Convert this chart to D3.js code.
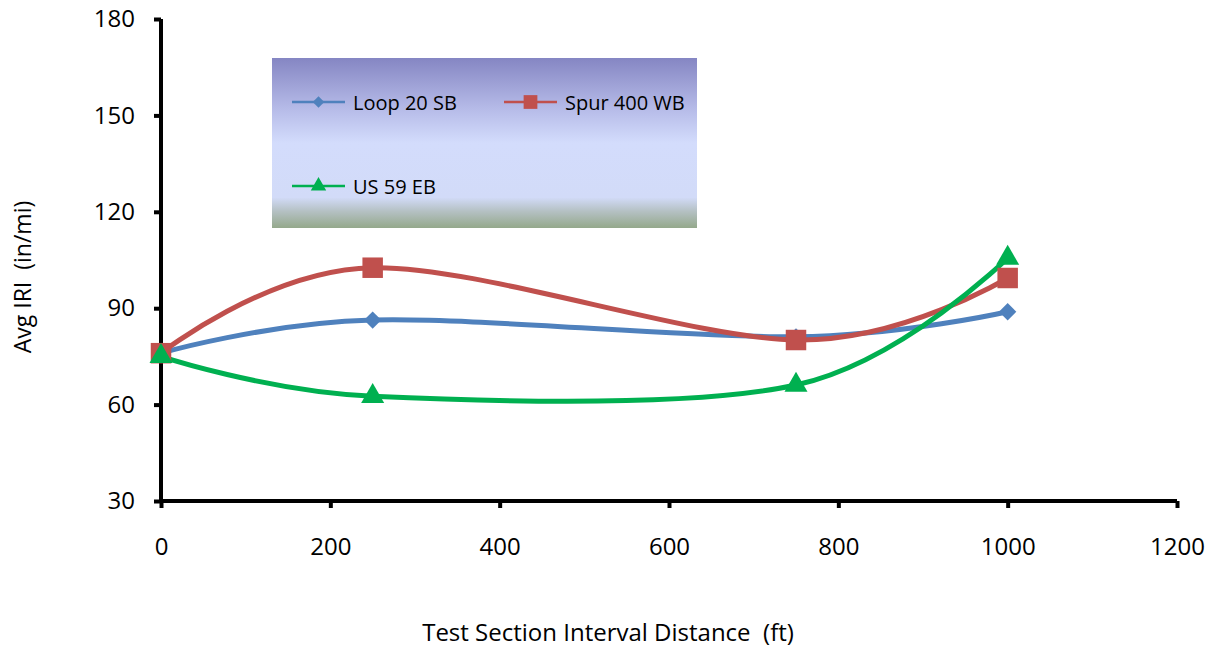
<!DOCTYPE html>
<html>
<head>
<meta charset="utf-8">
<script src="https://cdn.jsdelivr.net/npm/d3@7"></script>
<style>
  body { margin: 0; background: #fff; }
  text { font-family: "Open Sans", sans-serif; fill: #000; white-space: pre; }
</style>
</head>
<body>
<svg id="chart"></svg>
<script>
// data
const distances = [0, 250, 750, 1000];
const loop20sb = [76, 86.3, 81.1, 88.9];
const spur400wb = [76, 102.6, 80.1, 99.4];
const us59eb = [75, 62.6, 66.1, 105.6];
const seriesNames = ['Loop 20 SB', 'Spur 400 WB', 'US 59 EB'];
const xTicks = [0, 200, 400, 600, 800, 1000, 1200];
const yTicks = [30, 60, 90, 120, 150, 180];

const width = 1217, height = 650;
const margin = {top: 19, right: 40, bottom: 149, left: 161};
const innerW = 1177 - margin.left;
const innerH = 501 - margin.top;

const svg = d3.select('#chart')
    .attr('width', width)
    .attr('height', height);

const chart = svg.append('g')
    .attr('transform', `translate(${margin.left},${margin.top})`);

const xScale = d3.scaleLinear().domain([0, 1200]).range([0, innerW]);
const yScale = d3.scaleLinear().domain([30, 180]).range([innerH, 0]);

// diamond = square turned 45 degrees
const series = [
  {name: seriesNames[0], values: loop20sb, color: '#4f81bd', symbol: d3.symbolSquare, size: 150, rot: 45},
  {name: seriesNames[1], values: spur400wb, color: '#c0504d', symbol: d3.symbolSquare, size: 420, rot: 0},
  {name: seriesNames[2], values: us59eb, color: '#00b050', symbol: d3.symbolTriangle, size: 230, rot: 0}
];

// legend box with the gradient fill
const defs = svg.append('defs');
const grad = defs.append('linearGradient')
    .attr('id', 'legendFill')
    .attr('x1', 0).attr('y1', 0).attr('x2', 0).attr('y2', 1);
[[0, '#8586c3'], [0.3, '#b6bbe8'], [0.5, '#d3dcfc'], [0.82, '#d2dbf8'], [0.9, '#b5c1c4'], [1, '#94a88b']]
  .forEach(([o, c]) => grad.append('stop').attr('offset', o).attr('stop-color', c));

svg.append('rect')
    .attr('x', 272).attr('y', 58)
    .attr('width', 425).attr('height', 170)
    .attr('fill', 'url(#legendFill)');

const legendPos = [[292, 102], [504, 102], [292, 186]];
series.forEach((s, i) => {
  const [lx, ly] = legendPos[i];
  const g = svg.append('g').attr('class', 'legend-item');
  g.append('line')
      .attr('x1', lx).attr('x2', lx + 53)
      .attr('y1', ly).attr('y2', ly)
      .attr('stroke', s.color).attr('stroke-width', 2.5);
  g.append('path')
      .attr('d', d3.symbol(s.symbol, s.size * 0.45)())
      .attr('transform', `translate(${lx + 26.5},${ly}) rotate(${s.rot})`)
      .attr('fill', s.color);
  g.append('text')
      .attr('x', lx + 61).attr('y', ly + 8)
      .attr('font-size', 20)
      .text(s.name);
});

// axes
const xAxis = d3.axisBottom(xScale).tickValues(xTicks).tickFormat(d3.format('d')).tickSize(7).tickPadding(30);
const yAxis = d3.axisLeft(yScale).tickValues(yTicks).tickFormat(d3.format('d')).tickSize(7).tickPadding(19);

const xAxisG = chart.append('g')
    .attr('class', 'axis x-axis')
    .attr('transform', `translate(0,${innerH})`)
    .call(xAxis);

const yAxisG = chart.append('g')
    .attr('class', 'axis y-axis')
    .call(yAxis);

[xAxisG, yAxisG].forEach(g => {
  g.select('.domain').attr('stroke', '#000').attr('stroke-width', 4);
  g.selectAll('.tick line').attr('stroke', '#000').attr('stroke-width', 4);
  g.selectAll('.tick text').attr('font-size', 24).attr('font-family', '"Open Sans", sans-serif');
});
xAxisG.select('.domain').attr('d', `M0,0H${innerW}`);
yAxisG.select('.domain').attr('d', `M0,0V${innerH}`);

// axis titles
svg.append('text')
    .attr('class', 'axis-title x-axis-title')
    .attr('x', 608).attr('y', 641)
    .attr('text-anchor', 'middle')
    .attr('font-size', 24)
    .text('Test Section Interval Distance  (ft)');

svg.append('text')
    .attr('class', 'axis-title y-axis-title')
    .attr('transform', 'translate(31,277) rotate(-90)')
    .attr('text-anchor', 'middle')
    .attr('font-size', 23)
    .text('Avg IRI  (in/mi)');

// smoothed lines
const line = d3.line()
    .x((d, i) => xScale(distances[i]))
    .y(d => yScale(d))
    .curve(d3.curveCatmullRom.alpha(0));

const dataGroup = chart.append('g').attr('class', 'dataGroup');

series.forEach(s => {
  dataGroup.append('path')
      .attr('class', 'series-line')
      .attr('d', line(s.values))
      .attr('fill', 'none')
      .attr('stroke', s.color)
      .attr('stroke-width', 5)
      .attr('stroke-linecap', 'round');
});

series.forEach(s => {
  dataGroup.selectAll(null)
      .data(s.values)
    .join('path')
      .attr('class', 'point')
      .attr('d', d3.symbol(s.symbol, s.size)())
      .attr('transform', (d, i) => `translate(${xScale(distances[i])},${yScale(d)}) rotate(${s.rot})`)
      .attr('fill', s.color);
});
</script>
</body>
</html>
